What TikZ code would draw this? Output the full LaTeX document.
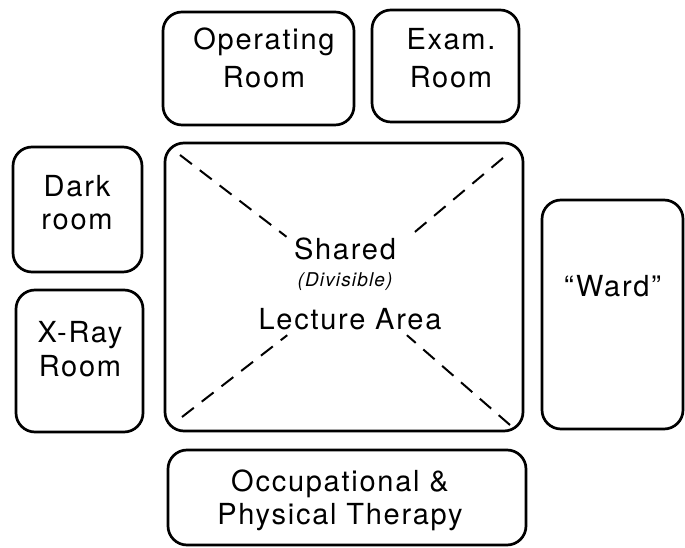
\documentclass[tikz,border=0pt]{standalone}
\usepackage{fontspec}
\setmainfont{TeX Gyre Heros}
\newfontfamily\roomfont[LetterSpace=6]{TeX Gyre Heros}

\begin{document}
\begin{tikzpicture}[x=1pt,y=1pt,
  room/.style={draw, line width=2.7pt, rounded corners=19pt, inner sep=0pt, outer sep=0pt},
  % base anchor of a two-line name sits on its last line
  lbl/.style={inner sep=0pt, anchor=base, align=center,
              font=\roomfont\fontsize{29}{#1}\selectfont},
  lbl/.default=33,
  xline/.style={line width=2pt, dash pattern=on 15pt off 10pt},
]
\useasboundingbox (0,0) rectangle (685,548);

% rooms
\node[room, minimum width=191pt, minimum height=113pt] (or)   at (258.5,479.5) {};
\node[room, minimum width=147pt, minimum height=112pt] (exam) at (445.5,482) {};
\node[room, minimum width=129pt, minimum height=125pt] (dark) at (77.5,338.5) {};
\node[room, minimum width=127pt, minimum height=142pt] (xray) at (79.5,187) {};
\node[room, minimum width=358pt, minimum height=288pt] (shared) at (344,261) {};
\node[room, minimum width=141pt, minimum height=229pt] (ward) at (612.5,233.5) {};
\node[room, minimum width=358pt, minimum height=95pt]  (occ)  at (347,50.5) {};

% room names
\node[lbl=38] (orname)   at (264,460)   {Operating\\Room};
\node[lbl=38] (examname) at (451,460)   {Exam.\\Room};
\node[lbl]    (darkname) at (77,318)    {Dark\\room};
\node[lbl=34] (xrayname) at (80,171)    {X-Ray\\Room};
\node[lbl]    (wardname) at (612.5,251) {“Ward”};
\node[lbl]    (occname)  at (340,23)    {Occupational \&\\Physical Therapy};

% lecture area title
\node[lbl] (sh1) at (345,288) {Shared};
\node[inner sep=0pt, anchor=base, font=\addfontfeature{LetterSpace=6}\fontsize{19}{22}\selectfont\itshape]
  (sh2) at (345,261) {(Divisible)};
\node[lbl] (sh3) at (350,218) {Lecture Area};

% clear zone around the title, where the dashed diagonals stop
\node[inner sep=0pt, minimum width=187pt, minimum height=98pt] (gap) at (350.5,262) {};
\coordinate (ctl) at (180,393);
\coordinate (ctr) at (503,390);
\coordinate (cbl) at (182,131);
\coordinate (cbr) at (510,123);
\draw[xline] (ctl) -- (gap);
\draw[xline] (ctr) -- (gap);
\draw[xline] (cbl) -- (gap);
\draw[xline] (cbr) -- (gap);
\end{tikzpicture}
\end{document}
